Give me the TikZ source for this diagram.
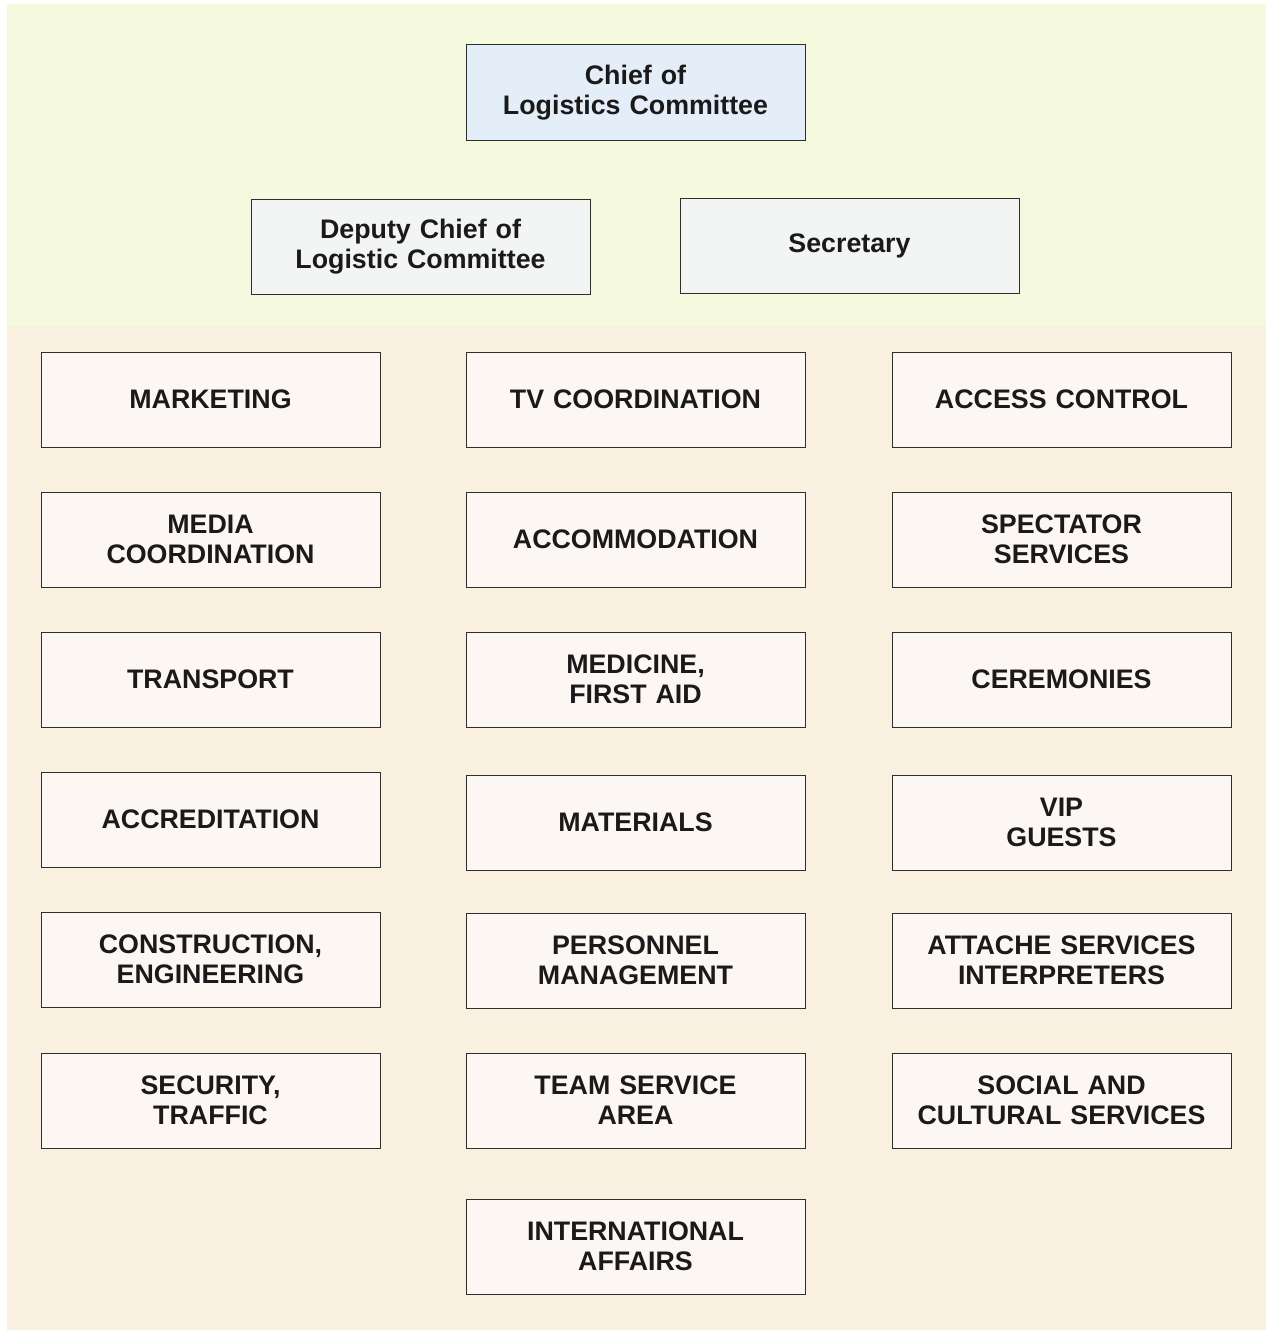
\documentclass[tikz,border=0pt]{standalone}
\usepackage{fontspec}
\setmainfont{Liberation Sans}
\definecolor{topbg}{HTML}{F5F9DE}
\definecolor{botbg}{HTML}{FAF0DF}
\definecolor{chieffill}{HTML}{E3EEF9}
\definecolor{depfill}{HTML}{F2F5F4}
\definecolor{unitfill}{HTML}{FCF7F3}
\definecolor{edge}{HTML}{2E2E2E}
\definecolor{txt}{HTML}{1A1A1A}
\tikzset{
  unitbox/.style={draw=edge, line width=1pt, fill=unitfill, minimum width=339pt, minimum height=95pt,
    inner sep=0pt, text width=336pt, align=center, text=txt,
    font=\fontsize{26.8}{30}\selectfont\bfseries},
  chiefbox/.style={unitbox, fill=chieffill},
  depbox/.style={unitbox, fill=depfill}
}
\begin{document}
\begin{tikzpicture}[x=1pt,y=-1pt]
\useasboundingbox (0,0) rectangle (1272,1330);
\fill[white] (0,0) rectangle (1272,1330);
\fill[topbg] (7,4) rectangle (1266,326);
\fill[botbg] (7,326) rectangle (1266,1330);

\node[chiefbox] (chief) at (635.5,92.5) {Chief of\\Logistics Committee};
\node[depbox] (deputy) at (420.5,246.5) {Deputy Chief of\\Logistic Committee};
\node[depbox] (secretary) at (849.5,246) {Secretary};

\node[unitbox] (marketing) at (210.5,399.5) {MARKETING};
\node[unitbox] (tv) at (635.5,399.5) {TV COORDINATION};
\node[unitbox] (access) at (1061.5,399.5) {ACCESS CONTROL};

\node[unitbox] (media) at (210.5,539.5) {MEDIA\\COORDINATION};
\node[unitbox] (accommodation) at (635.5,539.5) {ACCOMMODATION};
\node[unitbox] (spectator) at (1061.5,539.5) {SPECTATOR\\SERVICES};

\node[unitbox] (transport) at (210.5,679.5) {TRANSPORT};
\node[unitbox] (medicine) at (635.5,679.5) {MEDICINE,\\FIRST AID};
\node[unitbox] (ceremonies) at (1061.5,679.5) {CEREMONIES};

\node[unitbox] (accreditation) at (210.5,819.5) {ACCREDITATION};
\node[unitbox] (materials) at (635.5,822.5) {MATERIALS};
\node[unitbox] (vip) at (1061.5,822.5) {VIP\\GUESTS};

\node[unitbox] (construction) at (210.5,959.5) {CONSTRUCTION,\\ENGINEERING};
\node[unitbox] (personnel) at (635.5,960.5) {PERSONNEL\\MANAGEMENT};
\node[unitbox] (attache) at (1061.5,960.5) {ATTACHE SERVICES\\INTERPRETERS};

\node[unitbox] (security) at (210.5,1100.5) {SECURITY,\\TRAFFIC};
\node[unitbox] (team) at (635.5,1100.5) {TEAM SERVICE\\AREA};
\node[unitbox] (social) at (1061.5,1100.5) {SOCIAL AND\\CULTURAL SERVICES};

\node[unitbox] (international) at (635.5,1246.5) {INTERNATIONAL\\AFFAIRS};
\end{tikzpicture}
\end{document}
